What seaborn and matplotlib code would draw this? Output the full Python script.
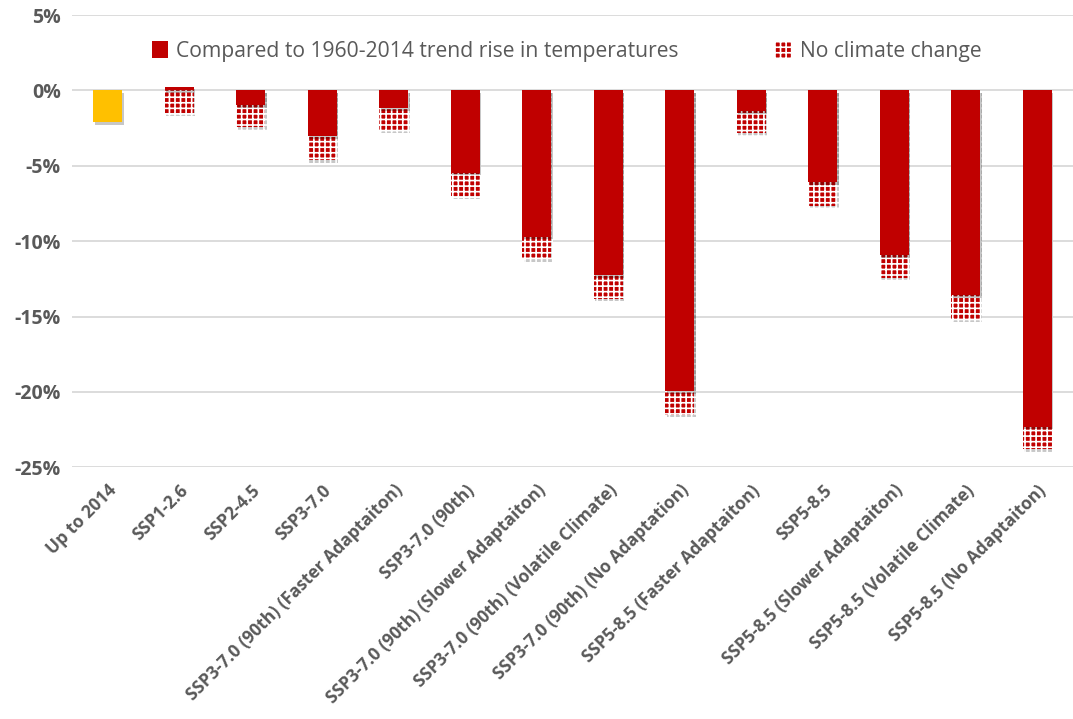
import numpy as np
import pandas as pd
import matplotlib
matplotlib.use('Agg')
import matplotlib.pyplot as plt
import matplotlib.patheffects as pe
from matplotlib.patches import Patch
from matplotlib.ticker import FuncFormatter
import seaborn as sns

# ================= data =================
CATEGORIES = [
    'Up to 2014', 'SSP1-2.6', 'SSP2-4.5', 'SSP3-7.0',
    'SSP3-7.0 (90th) (Faster Adaptaiton)', 'SSP3-7.0 (90th)',
    'SSP3-7.0 (90th) (Slower Adaptaiton)', 'SSP3-7.0 (90th) (Volatile Climate)',
    'SSP3-7.0 (90th) (No Adaptation)', 'SSP5-8.5 (Faster Adaptaiton)', 'SSP5-8.5',
    'SSP5-8.5 (Slower Adaptaiton)', 'SSP5-8.5 (Volatile Climate)', 'SSP5-8.5 (No Adaptaiton)',
]
# historical impact (only first category)
HISTORICAL = [-2.1, np.nan, np.nan, np.nan, np.nan, np.nan, np.nan,
              np.nan, np.nan, np.nan, np.nan, np.nan, np.nan, np.nan]
# compared to 1960-2014 trend rise in temperatures
TREND_RISE = [np.nan, 0.25, -0.95, -3.05, -1.15, -5.45, -9.7,
              -12.25, -19.95, -1.35, -6.1, -10.9, -13.6, -22.3]
# no climate change component
NO_CLIMATE = [np.nan, -1.5, -1.5, -1.55, -1.5, -1.55, -1.5,
              -1.55, -1.55, -1.5, -1.55, -1.55, -1.55, -1.5]
LEGEND_LABELS = ['Compared to 1960-2014 trend rise in temperatures', 'No climate change']
# ========================================

RED = '#C00000'
YELLOW = '#FFC000'
GREY = '#595959'

df = pd.DataFrame({'cat': CATEGORIES, 'hist': HISTORICAL,
                   'trend': TREND_RISE, 'noclim': NO_CLIMATE})
# checker segment sits below the negative part of the red bar
df['checker_end'] = df['trend'].clip(upper=0) + df['noclim']

sns.set_theme(style='white')
plt.rcParams['font.family'] = ['Open Sans', 'DejaVu Sans']
plt.rcParams['hatch.color'] = 'white'
plt.rcParams['hatch.linewidth'] = 1.2

fig = plt.figure(figsize=(10.73, 7.19), dpi=100)
ax = fig.add_axes([0.067, 0.350, 0.933, 0.629])

shadow = [pe.SimplePatchShadow(offset=(1.2, -2), shadow_rgbFace='black', alpha=0.22),
          pe.Normal()]

width = 0.405
d = df.dropna(subset=['checker_end'])
sns.barplot(data=d, x='cat', y='checker_end', order=CATEGORIES, color=RED,
            saturation=1, width=width, ax=ax, zorder=2)
n0 = len(ax.patches)
for p in ax.patches:
    p.set_hatch('+++')
    p.set_linewidth(0)
    p.set_path_effects(shadow)

d = df.dropna(subset=['trend'])
sns.barplot(data=d, x='cat', y='trend', order=CATEGORIES, color=RED,
            saturation=1, width=width, ax=ax, zorder=3)
d = df.dropna(subset=['hist'])
sns.barplot(data=d, x='cat', y='hist', order=CATEGORIES, color=YELLOW,
            saturation=1, width=width, ax=ax, zorder=3)
for p in ax.patches[n0:]:
    p.set_linewidth(0)
    p.set_path_effects(shadow)

ax.set_ylim(-25, 5)
ax.set_xlim(-0.5, len(CATEGORIES) - 0.5)
ax.set_yticks(np.arange(-25, 6, 5))
ax.yaxis.set_major_formatter(FuncFormatter(lambda v, _: f'{v:.0f}%'))
ax.grid(axis='y', color='#D9D9D9', linewidth=1.3, zorder=0)
ax.set_axisbelow(True)
sns.despine(ax=ax, left=True, bottom=True)
ax.set_xlabel('')
ax.set_ylabel('')
ax.tick_params(axis='both', length=0, colors=GREY)
ax.tick_params(axis='y', pad=8)
for lab in ax.get_yticklabels():
    lab.set_fontsize(14)
    lab.set_fontweight('bold')
ax.set_xticks(range(len(CATEGORIES)))
ax.set_xticklabels(CATEGORIES, rotation=45, ha='right', rotation_mode='anchor',
                   fontsize=12.5, fontweight='bold', color=GREY)
ax.tick_params(axis='x', pad=10)

handles = [Patch(facecolor=RED, linewidth=0),
           Patch(facecolor=RED, hatch='+++', linewidth=0)]
ax.legend(handles, LEGEND_LABELS, loc='upper center', bbox_to_anchor=(0.494, 0.985),
          ncol=2, frameon=False, fontsize=15.2, labelcolor=GREY,
          handlelength=0.8, handleheight=0.8, handletextpad=0.35, columnspacing=4.6)

fig.savefig('out.png', dpi=100)
